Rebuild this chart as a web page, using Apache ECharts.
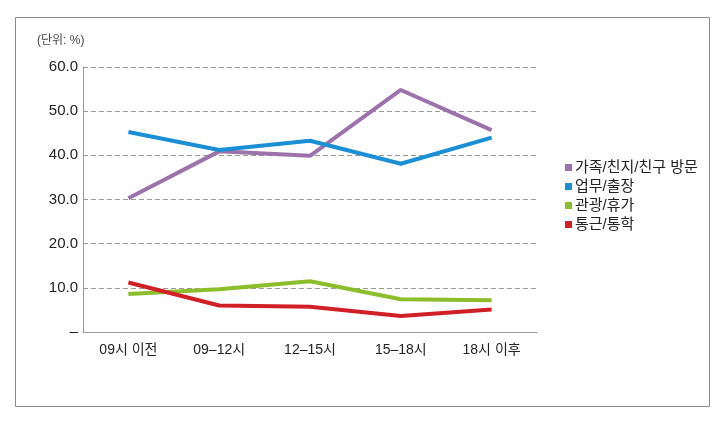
<!DOCTYPE html>
<html><head><meta charset="utf-8">
<script src="https://cdn.jsdelivr.net/npm/echarts@6/dist/echarts.min.js"></script>
<style>html,body{margin:0;padding:0;background:#fff}#c{width:725px;height:421px}</style>
</head><body><div id="c"></div>
<script>
const categories = ['09시 이전', '09–12시', '12–15시', '15–18시', '18시 이후'];
const seriesNames = ['가족/친지/친구 방문', '업무/출장', '관광/휴가', '통근/통학'];
const family = [30.3, 40.9, 39.9, 54.8, 45.7];
const business = [45.3, 41.2, 43.3, 38.1, 44.0];
const tourism = [8.6, 9.7, 11.5, 7.4, 7.2];
const commute = [11.2, 6.0, 5.7, 3.6, 5.1];
const colors = ['#9C72AC', '#1A8FD6', '#8CBD2B', '#D11F26'];
const yTicks = [0, 10, 20, 30, 40, 50, 60];
const unitLabel = '(단위: %)';

const chart = echarts.init(document.getElementById('c'), null, {renderer: 'canvas'});
const font = 'Liberation Sans, Arial, "Noto Sans CJK KR", sans-serif';
const dataSets = [family, business, tourism, commute];
chart.setOption({
  animation: false,
  textStyle: {fontFamily: font},
  graphic: [
    {type: 'rect', shape: {x: 15.5, y: 17.5, width: 694, height: 389}, style: {fill: 'none', stroke: '#8a8a8a', lineWidth: 1}},
    {type: 'text', left: 37, top: 35, style: {text: unitLabel, fill: '#444', font: '12px ' + font}}
  ],
  grid: {left: 83, right: 188, top: 67, bottom: 89, containLabel: false},
  legend: {
    orient: 'vertical', left: 560, top: 155, itemGap: 4,
    itemWidth: 7, itemHeight: 7, icon: 'rect',
    textStyle: {fontSize: 15, color: '#222', fontFamily: font, padding: [0, 0, 0, -2]},
    data: seriesNames
  },
  xAxis: {
    type: 'category', data: categories, boundaryGap: true,
    axisLine: {lineStyle: {color: '#999', width: 1}},
    axisTick: {show: false},
    axisLabel: {fontSize: 14, color: '#222', margin: 11}
  },
  yAxis: {
    type: 'value', min: 0, max: 60, interval: 10,
    axisLine: {show: true, lineStyle: {color: '#999', width: 1}},
    axisTick: {show: false},
    splitLine: {lineStyle: {color: '#9a9a9a', type: [5, 3], width: 1}},
    axisLabel: {fontSize: 15, color: '#222', margin: 5,
      formatter: v => v === yTicks[0] ? '–' : v.toFixed(1)}
  },
  series: seriesNames.map((n, i) => ({
    name: n, type: 'line', data: dataSets[i], symbol: 'none',
    lineStyle: {color: colors[i], width: 4}, itemStyle: {color: colors[i]}
  }))
});
</script></body></html>
